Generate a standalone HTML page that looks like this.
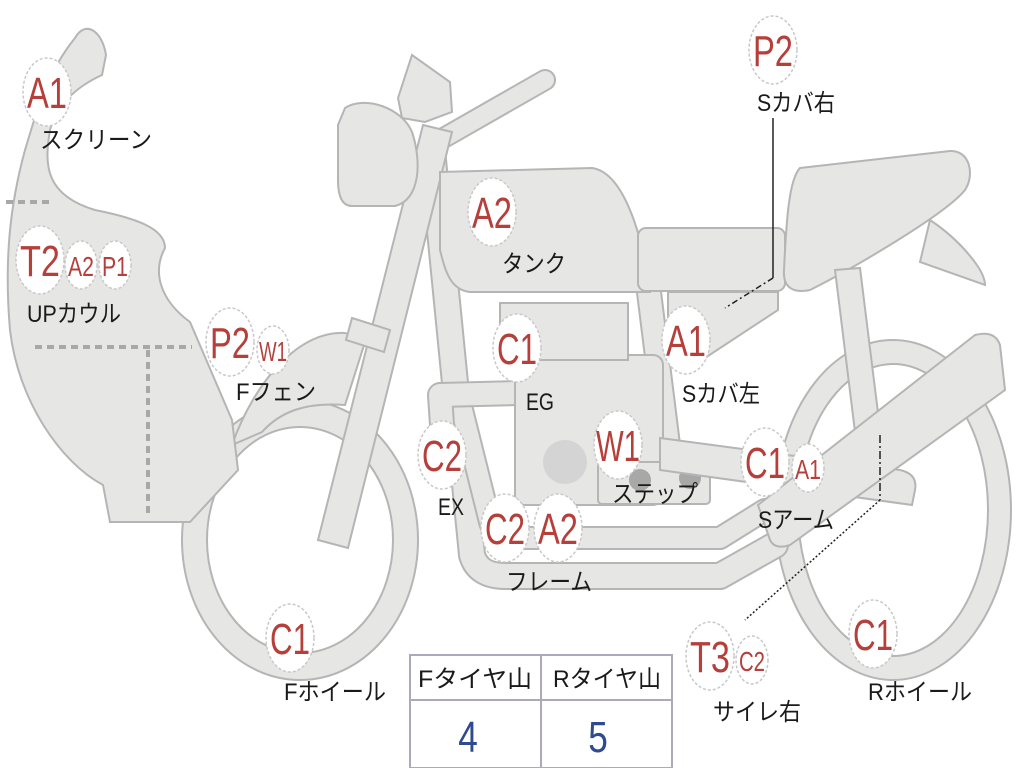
<!DOCTYPE html>
<html><head><meta charset="utf-8"><style>
html,body{margin:0;padding:0;background:#fff}
svg{display:block}
.s{fill:#e6e6e4;stroke:#b5b5b5;stroke-width:2}
.lbl{font-family:"Liberation Sans","Noto Sans CJK JP",sans-serif;font-size:24px;fill:#1a1a1a}
.bg{fill:#fff;stroke:#c8c8c8;stroke-width:1.5;stroke-dasharray:3 2}
.bt{font-family:"Liberation Sans",sans-serif;fill:#b5403b;text-anchor:middle}
</style></head><body>
<svg width="1024" height="768" viewBox="0 0 1024 768" xmlns="http://www.w3.org/2000/svg">
<!-- front wheel -->
<path class="s" fill-rule="evenodd" d="M182,540a118,140 0 1,0 236,0a118,140 0 1,0 -236,0Z M207,540a93,113 0 1,0 186,0a93,113 0 1,0 -186,0Z"/>
<!-- rear wheel -->
<path class="s" fill-rule="evenodd" d="M775,510a118,170 0 1,0 236,0a118,170 0 1,0 -236,0Z M798,510a95,146 0 1,0 190,0a95,146 0 1,0 -190,0Z"/>
<!-- front fender -->
<path class="s" d="M232,445 C255,380 300,330 345,333 L365,342 L345,405 C305,402 280,412 262,432 Z"/>
<!-- frame bands -->
<g fill="none" stroke-linejoin="round" stroke-linecap="round">
<path stroke="#b5b5b5" stroke-width="28" d="M432,150 L472,555 Q478,576 505,576 L720,576 L775,545"/>
<path stroke="#e6e6e4" stroke-width="24" d="M432,150 L472,555 Q478,576 505,576 L720,576 L775,545"/>
<path stroke="#b5b5b5" stroke-width="24" d="M462,410 L490,522 Q495,538 515,538 L720,538 L765,510"/>
<path stroke="#e6e6e4" stroke-width="20" d="M462,410 L490,522 Q495,538 515,538 L720,538 L765,510"/>
<path stroke="#b5b5b5" stroke-width="26" d="M445,470 L440,395 L520,393"/>
<path stroke="#e6e6e4" stroke-width="22" d="M445,470 L440,395 L520,393"/>
<path stroke="#b5b5b5" stroke-width="26" d="M645,260 L668,445"/>
<path stroke="#e6e6e4" stroke-width="22" d="M645,260 L668,445"/>
<path stroke="#b5b5b5" stroke-width="22" d="M440,140 L545,80"/>
<path stroke="#e6e6e4" stroke-width="18" d="M440,140 L545,80"/>
</g>
<!-- fork -->
<polygon class="s" points="423,125 452,132 348,548 318,540"/>
<polygon class="s" points="352,318 390,330 384,352 346,340"/>
<!-- headlight / grips -->
<path class="s" d="M345,108 C365,95 402,108 412,132 C422,162 420,200 395,206 L352,206 C340,206 338,192 338,180 L338,125 Z"/>
<path class="s" d="M398,98 L412,55 L450,82 L452,112 L425,122 L402,118 Z"/>
<!-- fairing -->
<path class="s" d="M75,38 C85,20 102,30 106,55 L102,75 C80,85 58,102 50,130 C44,165 45,195 95,210 C135,218 165,228 165,248 C152,272 160,300 190,322 L232,420 L238,470 L190,522 L110,522 L103,485 C60,462 18,400 10,330 C4,260 10,205 25,150 C35,118 45,75 75,38 Z"/>
<g stroke="#a8a8a8" stroke-width="4" stroke-dasharray="7 5" fill="none">
<path d="M6,202 L50,202"/><path d="M35,347 L192,347"/><path d="M148,350 L148,515"/>
</g>
<!-- engine -->
<rect class="s" x="515" y="355" width="148" height="150" rx="10"/>
<rect class="s" x="500" y="303" width="128" height="57"/>
<circle cx="565" cy="462" r="22" fill="#d4d4d4"/>
<rect class="s" x="598" y="462" width="112" height="42" rx="4"/>
<circle cx="640" cy="480" r="11" fill="#a8a8a8"/>
<circle cx="690" cy="478" r="11" fill="#a8a8a8"/>
<!-- tank -->
<path class="s" d="M440,172 L592,168 C622,172 642,230 650,292 L470,292 C450,290 445,270 440,250 Z"/>
<!-- side cover & seat -->
<polygon class="s" points="668,292 778,292 778,310 705,358 668,358"/>
<rect class="s" x="638" y="228" width="147" height="63" rx="8"/>
<path class="s" d="M930,220 C960,240 985,270 985,285 L920,262 Z"/>
<path class="s" d="M800,168 L950,151 C970,150 975,175 965,190 C945,215 850,270 810,290 C790,294 783,285 784,270 C786,230 788,180 800,168 Z"/>
<!-- shock -->
<polygon class="s" points="835,270 860,268 882,445 857,448"/>
<!-- swingarm -->
<path class="s" d="M660,438 L900,470 Q918,474 915,490 L912,505 L660,470 Z"/>
<path class="s" d="M758,505 L975,335 Q995,330 1000,345 L1005,390 L790,545 Q775,550 770,540 Z"/>
<!-- leaders -->
<g fill="none" stroke="#222" stroke-width="1.5">
<path d="M773,118 L773,278"/><path d="M773,278 L725,308" stroke-dasharray="6 3 2 3"/>
<path d="M880,435 L880,500" stroke-dasharray="8 3 2 3"/><path d="M880,500 L745,620" stroke-dasharray="2 2"/>
</g>
<!-- table -->
<rect x="410" y="655" width="262" height="113" fill="#fff" stroke="#aab" stroke-width="2"/>
<path d="M410,700 L672,700 M541,655 L541,768" stroke="#aab" stroke-width="2"/>
<text class="lbl" x="418" y="687" textLength="114" lengthAdjust="spacingAndGlyphs">Fタイヤ山</text>
<text class="lbl" x="553" y="687" textLength="108" lengthAdjust="spacingAndGlyphs">Rタイヤ山</text>
<text x="468" y="752" font-family="Liberation Sans" font-size="44" fill="#2f4a8e" text-anchor="middle" transform="translate(468 0) scale(0.8 1) translate(-468 0)">4</text>
<text x="598" y="752" font-family="Liberation Sans" font-size="44" fill="#2f4a8e" text-anchor="middle" transform="translate(598 0) scale(0.8 1) translate(-598 0)">5</text>
<!-- badges -->
<g>
<ellipse class="bg" cx="47" cy="92" rx="24" ry="34"/><text class="bt" x="47" y="108" font-size="44" textLength="40" lengthAdjust="spacingAndGlyphs">A1</text>
<ellipse class="bg" cx="40" cy="260" rx="24" ry="34"/><text class="bt" x="40" y="276" font-size="44" textLength="40" lengthAdjust="spacingAndGlyphs">T2</text>
<ellipse class="bg" cx="81" cy="265" rx="16" ry="24"/><text class="bt" x="81" y="276" font-size="28" textLength="26" lengthAdjust="spacingAndGlyphs">A2</text>
<ellipse class="bg" cx="115" cy="265" rx="16" ry="24"/><text class="bt" x="115" y="276" font-size="28" textLength="26" lengthAdjust="spacingAndGlyphs">P1</text>
<ellipse class="bg" cx="230" cy="342" rx="24" ry="34"/><text class="bt" x="230" y="358" font-size="44" textLength="40" lengthAdjust="spacingAndGlyphs">P2</text>
<ellipse class="bg" cx="273" cy="350" rx="16" ry="24"/><text class="bt" x="273" y="361" font-size="28" textLength="28" lengthAdjust="spacingAndGlyphs">W1</text>
<ellipse class="bg" cx="492" cy="212" rx="24" ry="34"/><text class="bt" x="492" y="228" font-size="44" textLength="40" lengthAdjust="spacingAndGlyphs">A2</text>
<ellipse class="bg" cx="517" cy="348" rx="24" ry="34"/><text class="bt" x="517" y="364" font-size="44" textLength="40" lengthAdjust="spacingAndGlyphs">C1</text>
<ellipse class="bg" cx="686" cy="340" rx="24" ry="34"/><text class="bt" x="686" y="356" font-size="44" textLength="40" lengthAdjust="spacingAndGlyphs">A1</text>
<ellipse class="bg" cx="773" cy="50" rx="24" ry="34"/><text class="bt" x="773" y="66" font-size="44" textLength="40" lengthAdjust="spacingAndGlyphs">P2</text>
<ellipse class="bg" cx="442" cy="455" rx="24" ry="34"/><text class="bt" x="442" y="471" font-size="44" textLength="40" lengthAdjust="spacingAndGlyphs">C2</text>
<ellipse class="bg" cx="618" cy="445" rx="24" ry="34"/><text class="bt" x="618" y="461" font-size="44" textLength="44" lengthAdjust="spacingAndGlyphs">W1</text>
<ellipse class="bg" cx="765" cy="462" rx="24" ry="34"/><text class="bt" x="765" y="478" font-size="44" textLength="40" lengthAdjust="spacingAndGlyphs">C1</text>
<ellipse class="bg" cx="808" cy="468" rx="16" ry="24"/><text class="bt" x="808" y="479" font-size="28" textLength="26" lengthAdjust="spacingAndGlyphs">A1</text>
<ellipse class="bg" cx="505" cy="528" rx="24" ry="34"/><text class="bt" x="505" y="544" font-size="44" textLength="40" lengthAdjust="spacingAndGlyphs">C2</text>
<ellipse class="bg" cx="558" cy="528" rx="24" ry="34"/><text class="bt" x="558" y="544" font-size="44" textLength="40" lengthAdjust="spacingAndGlyphs">A2</text>
<ellipse class="bg" cx="290" cy="638" rx="24" ry="34"/><text class="bt" x="290" y="654" font-size="44" textLength="40" lengthAdjust="spacingAndGlyphs">C1</text>
<ellipse class="bg" cx="710" cy="656" rx="24" ry="34"/><text class="bt" x="710" y="672" font-size="44" textLength="40" lengthAdjust="spacingAndGlyphs">T3</text>
<ellipse class="bg" cx="752" cy="660" rx="16" ry="24"/><text class="bt" x="752" y="671" font-size="28" textLength="26" lengthAdjust="spacingAndGlyphs">C2</text>
<ellipse class="bg" cx="873" cy="634" rx="24" ry="34"/><text class="bt" x="873" y="650" font-size="44" textLength="40" lengthAdjust="spacingAndGlyphs">C1</text>
</g>
<!-- labels -->
<g class="lbl">
<text x="40" y="148" textLength="112" lengthAdjust="spacingAndGlyphs">スクリーン</text>
<text x="27" y="322" textLength="94" lengthAdjust="spacingAndGlyphs">UPカウル</text>
<text x="236" y="400" textLength="80" lengthAdjust="spacingAndGlyphs">Fフェン</text>
<text x="502" y="272" textLength="64" lengthAdjust="spacingAndGlyphs">タンク</text>
<text x="526" y="410" textLength="28" lengthAdjust="spacingAndGlyphs">EG</text>
<text x="682" y="402" textLength="78" lengthAdjust="spacingAndGlyphs">Sカバ左</text>
<text x="757" y="111" textLength="78" lengthAdjust="spacingAndGlyphs">Sカバ右</text>
<text x="438" y="515" textLength="26" lengthAdjust="spacingAndGlyphs">EX</text>
<text x="612" y="502" textLength="86" lengthAdjust="spacingAndGlyphs">ステップ</text>
<text x="758" y="528" textLength="76" lengthAdjust="spacingAndGlyphs">Sアーム</text>
<text x="506" y="590" textLength="86" lengthAdjust="spacingAndGlyphs">フレーム</text>
<text x="284" y="700" textLength="102" lengthAdjust="spacingAndGlyphs">Fホイール</text>
<text x="713" y="720" textLength="88" lengthAdjust="spacingAndGlyphs">サイレ右</text>
<text x="868" y="700" textLength="104" lengthAdjust="spacingAndGlyphs">Rホイール</text>
</g>
</svg>
</body></html>
